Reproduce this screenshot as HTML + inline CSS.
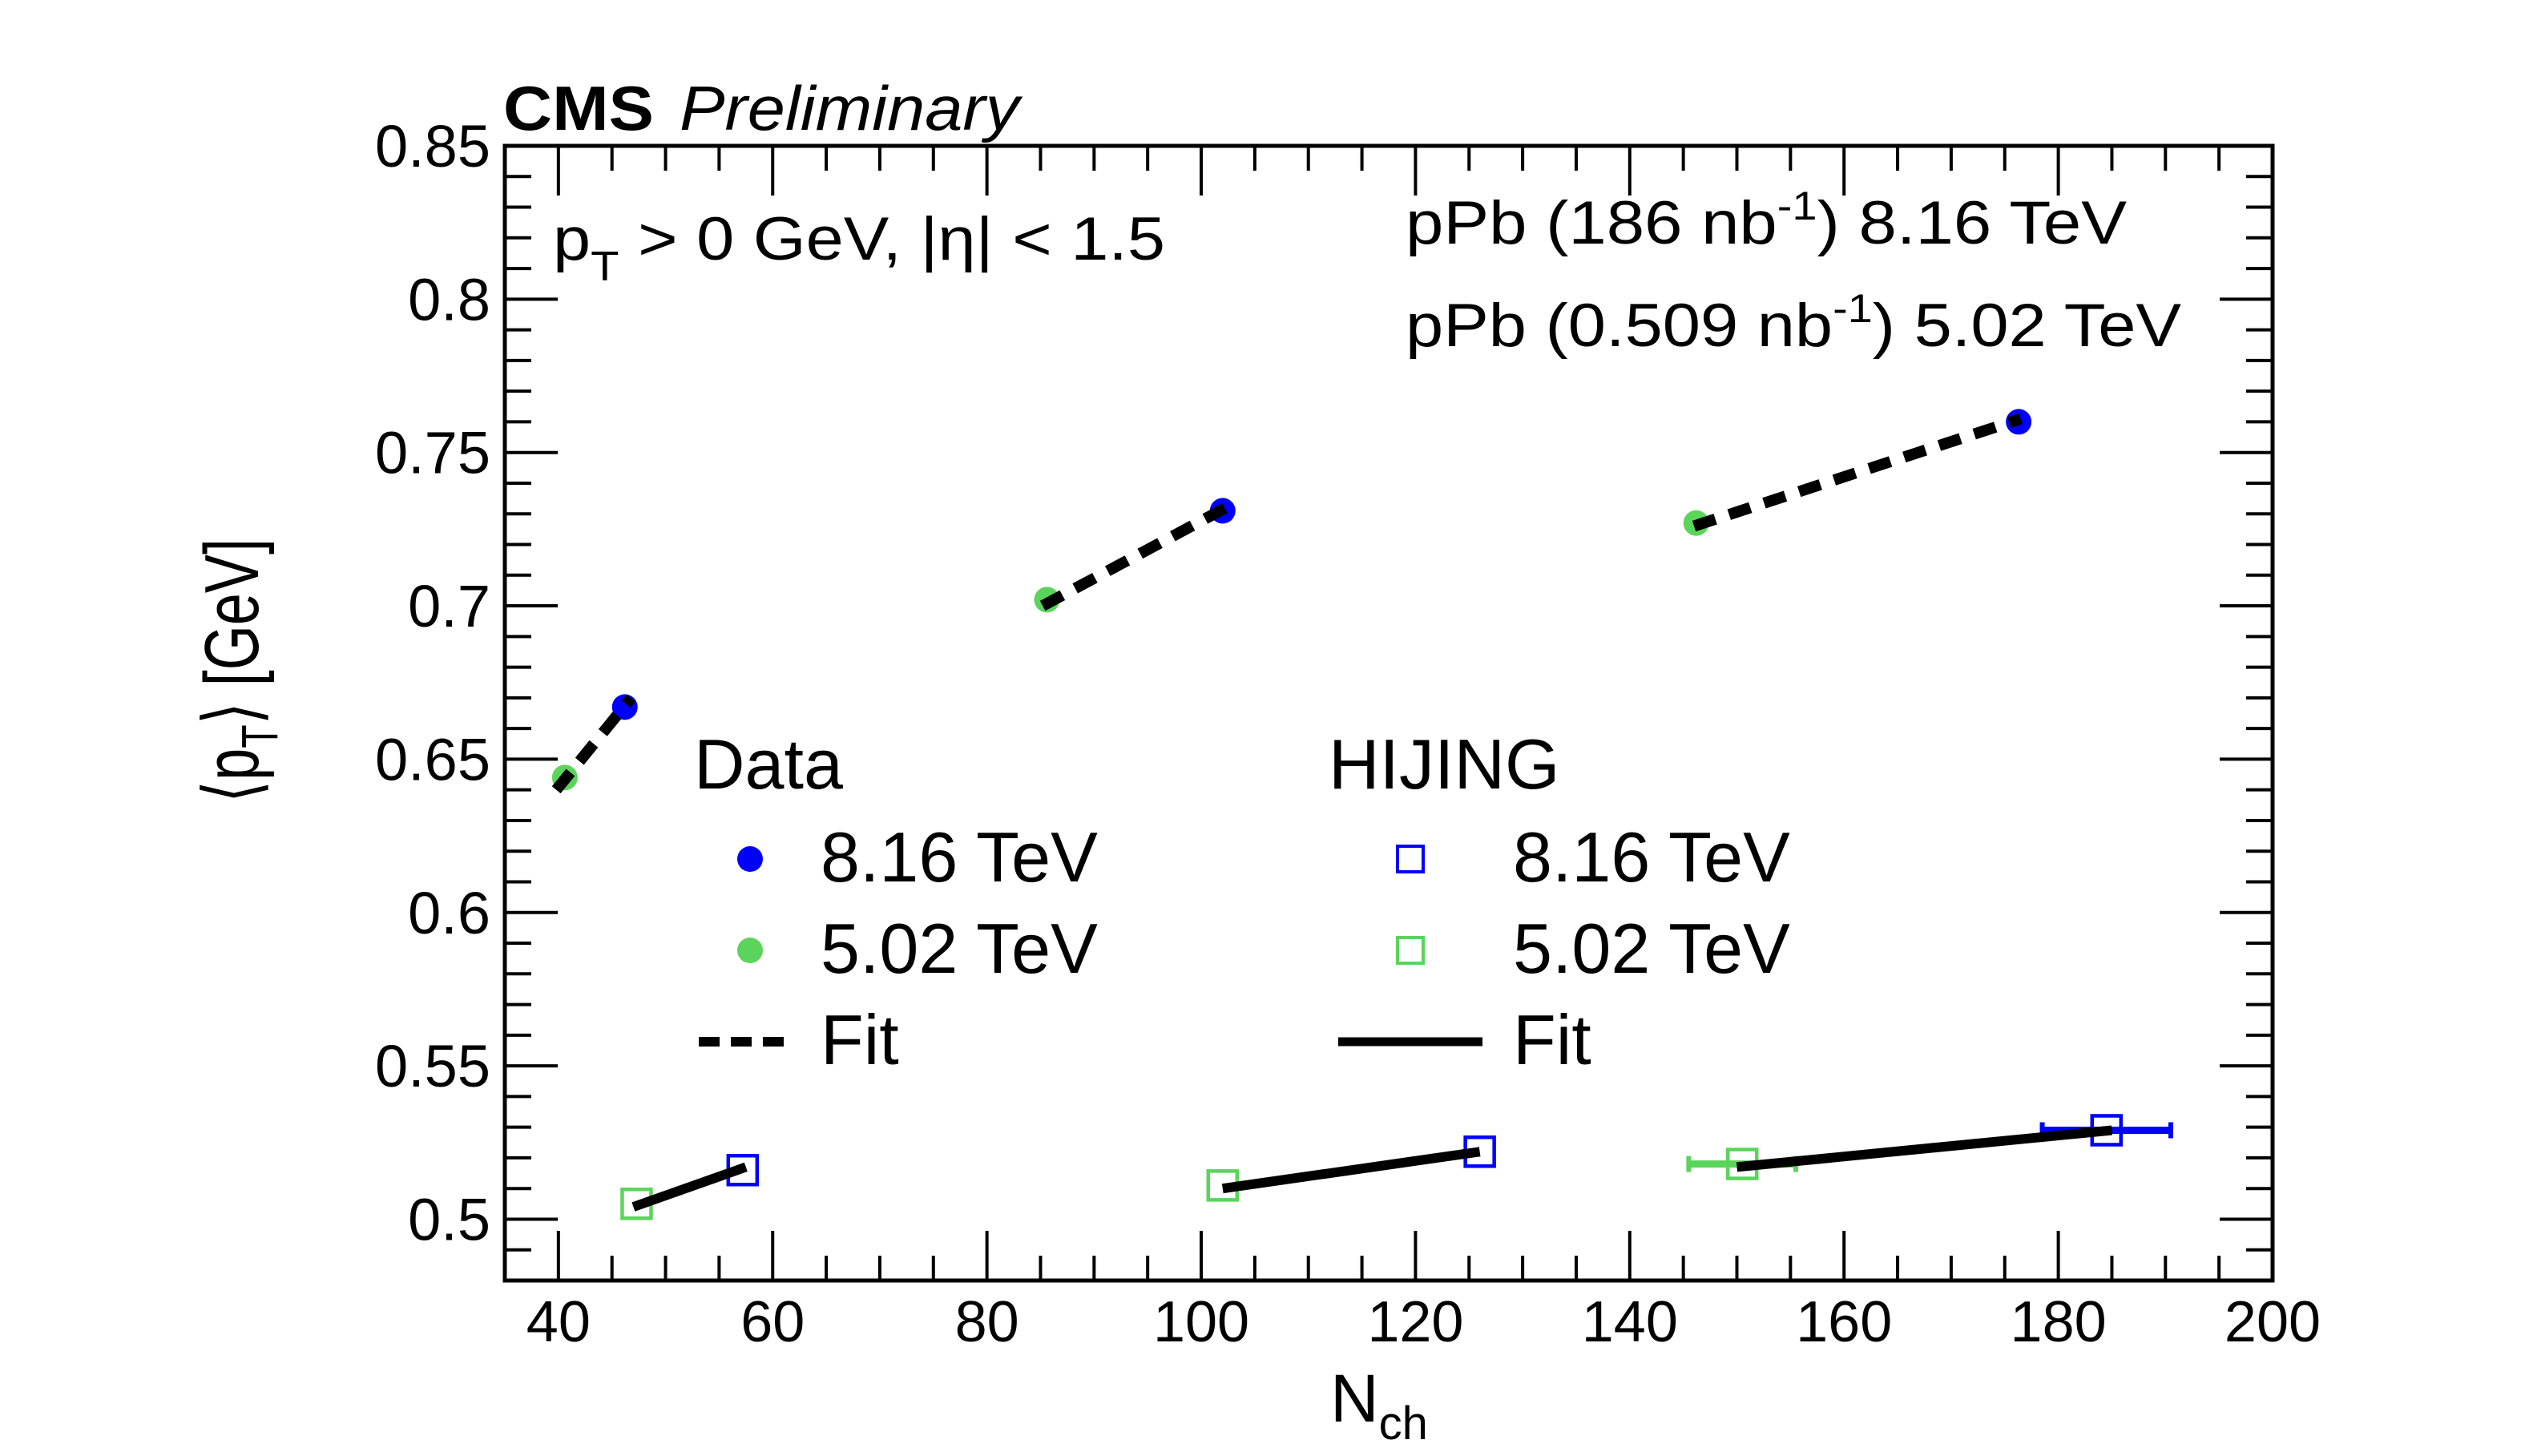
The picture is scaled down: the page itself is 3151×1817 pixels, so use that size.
<!DOCTYPE html>
<html><head><meta charset="utf-8"><style>
html,body{margin:0;padding:0;background:#fff;}
svg{display:block;font-family:"Liberation Sans",Arial,sans-serif;}
</style></head><body>
<svg id="chart" width="3151" height="1817" viewBox="0 0 3151 1817" xmlns="http://www.w3.org/2000/svg">
<rect x="0" y="0" width="3151" height="1817" fill="#fff"/>
<g id="ticks"></g>
<g id="marks"></g>
<rect x="630" y="182" width="2206" height="1416" fill="none" stroke="#000" stroke-width="5"/>
<text x="628" y="162" font-size="78" font-weight="bold" textLength="188" lengthAdjust="spacingAndGlyphs">CMS</text>
<text x="848" y="162" font-size="78" font-style="italic" textLength="424" lengthAdjust="spacingAndGlyphs">Preliminary</text>
<text x="690" y="324" font-size="76" textLength="764" lengthAdjust="spacingAndGlyphs">p<tspan font-size="52" dy="26">T</tspan><tspan dy="-26"> &gt; 0 GeV, |η| &lt; 1.5</tspan></text>
<text x="1754" y="304" font-size="76" textLength="900" lengthAdjust="spacingAndGlyphs">pPb (186 nb<tspan font-size="50" dy="-30">-1</tspan><tspan dy="30">) 8.16 TeV</tspan></text>
<text x="1754" y="432" font-size="76" textLength="968" lengthAdjust="spacingAndGlyphs">pPb (0.509 nb<tspan font-size="50" dy="-30">-1</tspan><tspan dy="30">) 5.02 TeV</tspan></text>
<text x="1660" y="1774" font-size="84">N<tspan font-size="58" dy="22">ch</tspan></text>
<text transform="translate(322,1002) rotate(-90)" font-size="96" textLength="330" lengthAdjust="spacingAndGlyphs">⟨p<tspan font-size="64" dy="24">T</tspan><tspan dy="-24">⟩ [GeV]</tspan></text>
<g>
<text x="866" y="984" font-size="88">Data</text>
<circle cx="936" cy="1072" r="16" fill="#0000ff"/>
<text x="1024" y="1100" font-size="88">8.16 TeV</text>
<circle cx="936" cy="1186" r="16" fill="#5bd45b"/>
<text x="1024" y="1214" font-size="88">5.02 TeV</text>
<line x1="872" y1="1300" x2="990" y2="1300" stroke="#000" stroke-width="12" stroke-dasharray="26 14"/>
<text x="1024" y="1328" font-size="88">Fit</text>
<text x="1658" y="984" font-size="88">HIJING</text>
<rect x="1744" y="1056" width="32" height="32" fill="none" stroke="#0000ff" stroke-width="4"/>
<text x="1888" y="1100" font-size="88">8.16 TeV</text>
<rect x="1744" y="1170" width="32" height="32" fill="none" stroke="#5bd45b" stroke-width="4"/>
<text x="1888" y="1214" font-size="88">5.02 TeV</text>
<line x1="1670" y1="1300" x2="1850" y2="1300" stroke="#000" stroke-width="11"/>
<text x="1888" y="1328" font-size="88">Fit</text>
</g>
</svg>
<script>
const xTickLabels = [40, 60, 80, 100, 120, 140, 160, 180, 200];
const yTickLabels = ["0.5", "0.55", "0.6", "0.65", "0.7", "0.75", "0.8", "0.85"];
const data816X = [46.2, 102, 176.3];
const data816Y = [0.667, 0.731, 0.760];
const data502X = [40.6, 85.6, 146.2];
const data502Y = [0.644, 0.702, 0.727];
const dataFitX1 = [39.8, 85.2, 146];
const dataFitY1 = [0.640, 0.700, 0.726];
const dataFitX2 = [46.8, 102.3, 176.5];
const dataFitY2 = [0.670, 0.732, 0.761];
const hij816X = [57.2, 126, 184.5];
const hij816Y = [0.516, 0.522, 0.529];
const hij816Err = [0, 0, 6];
const hij502X = [47.3, 102, 150.5];
const hij502Y = [0.505, 0.511, 0.518];
const hij502Err = [0, 0, 5];
const hijFitX1 = [47, 102, 150];
const hijFitY1 = [0.504, 0.510, 0.517];
const hijFitX2 = [57.5, 126, 185];
const hijFitY2 = [0.517, 0.522, 0.529];

const L = 630, R = 2836, T = 182, B = 1598;
const xMin = 35, xMax = 200, yMin = 0.48, yMax = 0.85;
const sx = v => L + (v - xMin) / (xMax - xMin) * (R - L);
const sy = v => B - (v - yMin) / (yMax - yMin) * (B - T);
const NS = "http://www.w3.org/2000/svg";
function mk(tag, attrs, parent) {
  const e = document.createElementNS(NS, tag);
  for (const k in attrs) e.setAttribute(k, attrs[k]);
  parent.appendChild(e);
  return e;
}
const ticks = document.getElementById('ticks');
const marks = document.getElementById('marks');
for (let v = 35; v <= 200; v += 5) {
  const major = v % 20 === 0;
  const len = major ? 62 : 31;
  const x = sx(v);
  const t1 = mk('line', {x1: x, y1: B, x2: x, y2: B - len, stroke: '#000', 'stroke-width': 4}, ticks);
  
  
  const t2 = mk('line', {x1: x, y1: T, x2: x, y2: T + len, stroke: '#000', 'stroke-width': 4}, ticks);
  
  
}
xTickLabels.forEach(v => {
  const t = mk('text', {x: sx(v), y: 1674, 'font-size': 72, 'text-anchor': 'middle'}, ticks);
  t.textContent = v;
  
  
});
for (let i = 48; i <= 85; i++) {
  const v = i / 100;
  const major = i % 5 === 0;
  const len = major ? 66 : 33;
  const y = sy(v);
  const t1 = mk('line', {x1: L, y1: y, x2: L + len, y2: y, stroke: '#000', 'stroke-width': 4}, ticks);
  
  
  const t2 = mk('line', {x1: R, y1: y, x2: R - len, y2: y, stroke: '#000', 'stroke-width': 4}, ticks);
  
  
}
yTickLabels.forEach(s => {
  const t = mk('text', {x: 612, y: sy(parseFloat(s)) + 26, 'font-size': 74, 'text-anchor': 'end'}, ticks);
  t.textContent = s;
  
  
});
function errbar(xs, ys, es, color) {
  xs.forEach((x, i) => {
    if (!es[i]) return;
    const l = mk('line', {x1: sx(x - es[i]), y1: sy(ys[i]), x2: sx(x + es[i]), y2: sy(ys[i]), stroke: color, 'stroke-width': 9}, marks);
    
    
    [x - es[i], x + es[i]].forEach(xe => {
      const c = mk('line', {x1: sx(xe), y1: sy(ys[i]) - 10, x2: sx(xe), y2: sy(ys[i]) + 10, stroke: color, 'stroke-width': 6}, marks);
      
      
    });
  });
}
errbar(hij502X, hij502Y, hij502Err, '#5bd45b');
errbar(hij816X, hij816Y, hij816Err, '#0000ff');
function squares(xs, ys, color, name) {
  xs.forEach((x, i) => {
    const r = mk('rect', {x: sx(x) - 18, y: sy(ys[i]) - 18, width: 36, height: 36, fill: '#fff', 'fill-opacity': 0, stroke: color, 'stroke-width': 4.5}, marks);
    
    
  });
}
squares(hij502X, hij502Y, '#5bd45b', 'hijing-502-point');
squares(hij816X, hij816Y, '#0000ff', 'hijing-816-point');
hijFitX1.forEach((x1, i) => {
  const l = mk('line', {x1: sx(x1), y1: sy(hijFitY1[i]), x2: sx(hijFitX2[i]), y2: sy(hijFitY2[i]), stroke: '#000', 'stroke-width': 12}, marks);
  
  
});
function dots(xs, ys, color, name) {
  xs.forEach((x, i) => {
    const c = mk('circle', {cx: sx(x), cy: sy(ys[i]), r: 16, fill: color}, marks);
    
    
  });
}
dots(data502X, data502Y, '#5bd45b', 'data-502-point');
dots(data816X, data816Y, '#0000ff', 'data-816-point');
dataFitX1.forEach((x1, i) => {
  const l = mk('line', {x1: sx(x1), y1: sy(dataFitY1[i]), x2: sx(dataFitX2[i]), y2: sy(dataFitY2[i]), stroke: '#000', 'stroke-width': 14, 'stroke-dasharray': '28 18'}, marks);
  
  
});
</script>
</body></html>
